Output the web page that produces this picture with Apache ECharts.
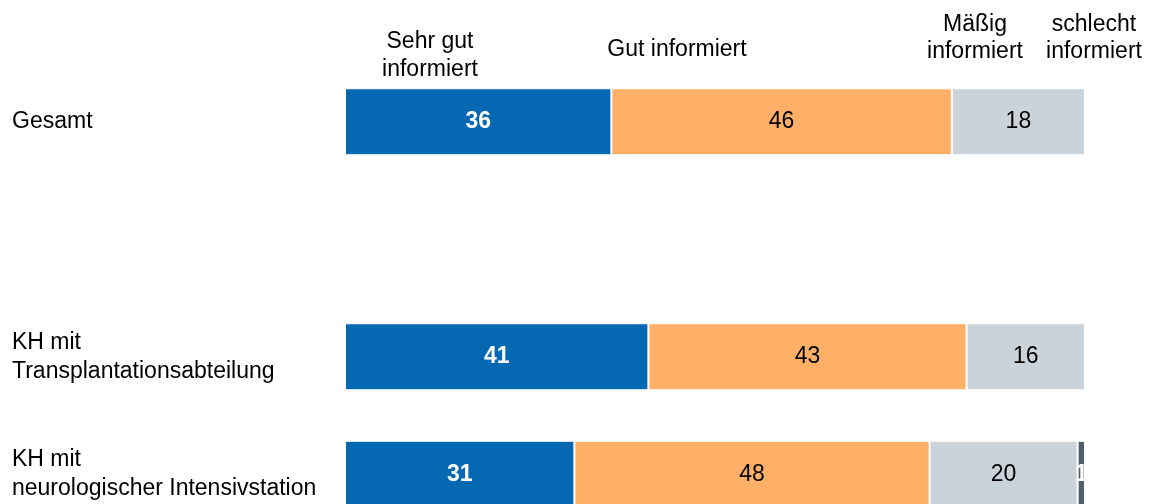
<!DOCTYPE html>
<html>
<head>
<meta charset="utf-8">
<script src="https://cdn.jsdelivr.net/npm/echarts@6/dist/echarts.min.js"></script>
<style>
html,body{margin:0;padding:0;background:#fff;overflow:hidden;}
#c{width:1154px;height:504px;}
</style>
</head>
<body>
<div id="c"></div>
<script>
const categories = ['Gesamt', '', 'KH mit\nTransplantationsabteilung', 'KH mit\nneurologischer Intensivstation'];
const seriesNames = ['Sehr gut informiert', 'Gut informiert', 'Mäßig informiert', 'schlecht informiert'];
const sehrGut = [36, null, 41, 31];
const gut = [46, null, 43, 48];
const maessig = [18, null, 16, 20];
const schlecht = [0, null, 0, 1];
const headerTexts = ['Sehr gut\ninformiert', 'Gut informiert', 'Mäßig\ninformiert', 'schlecht\ninformiert'];

const FONT = 'Liberation Sans, Arial, sans-serif';
const colors = ['#0468B3', '#FFB066', '#CBD3DA', '#505F6D'];
const labelColors = ['#ffffff', '#000000', '#000000', '#ffffff'];
const labelWeights = ['bold', 'normal', 'normal', 'bold'];
const values = [sehrGut, gut, maessig, schlecht];

const chart = echarts.init(document.getElementById('c'), null, {renderer: 'canvas'});

const series = values.map((arr, i) => ({
  name: seriesNames[i],
  type: 'bar',
  stack: 'total',
  barWidth: '57%',
  data: arr,
  itemStyle: {color: colors[i], borderColor: '#ffffff', borderWidth: 1},
  label: {
    show: true,
    position: 'inside',
    color: labelColors[i],
    fontWeight: labelWeights[i],
    fontSize: 23,
    fontFamily: FONT,
    formatter: p => (p.value ? String(p.value) : '')
  },
  emphasis: {disabled: true},
  animation: false
}));

const headerX = [430, 677, 975, 1094];
const headerY = [56, 50, 38, 38];
const headerLH = [28, 28, 27, 27];

chart.setOption({
  animation: false,
  grid: {left: 345, width: 740, top: 63, height: 470, containLabel: false, outerBoundsMode: 'none'},
  xAxis: {type: 'value', min: 0, max: 100, show: false},
  yAxis: {
    type: 'category',
    data: categories,
    inverse: true,
    axisLine: {show: false},
    axisTick: {show: false},
    splitLine: {show: false},
    axisLabel: {
      align: 'left',
      margin: 333,
      fontSize: 23,
      lineHeight: 29,
      color: '#000',
      fontFamily: FONT
    }
  },
  series: series,
  graphic: headerTexts.map((t, i) => ({
    type: 'text',
    x: headerX[i],
    y: headerY[i],
    style: {
      text: t,
      fontSize: 23,
      lineHeight: headerLH[i],
      fontFamily: FONT,
      fill: '#000',
      align: 'center',
      verticalAlign: 'middle'
    }
  }))
});
</script>
</body>
</html>
